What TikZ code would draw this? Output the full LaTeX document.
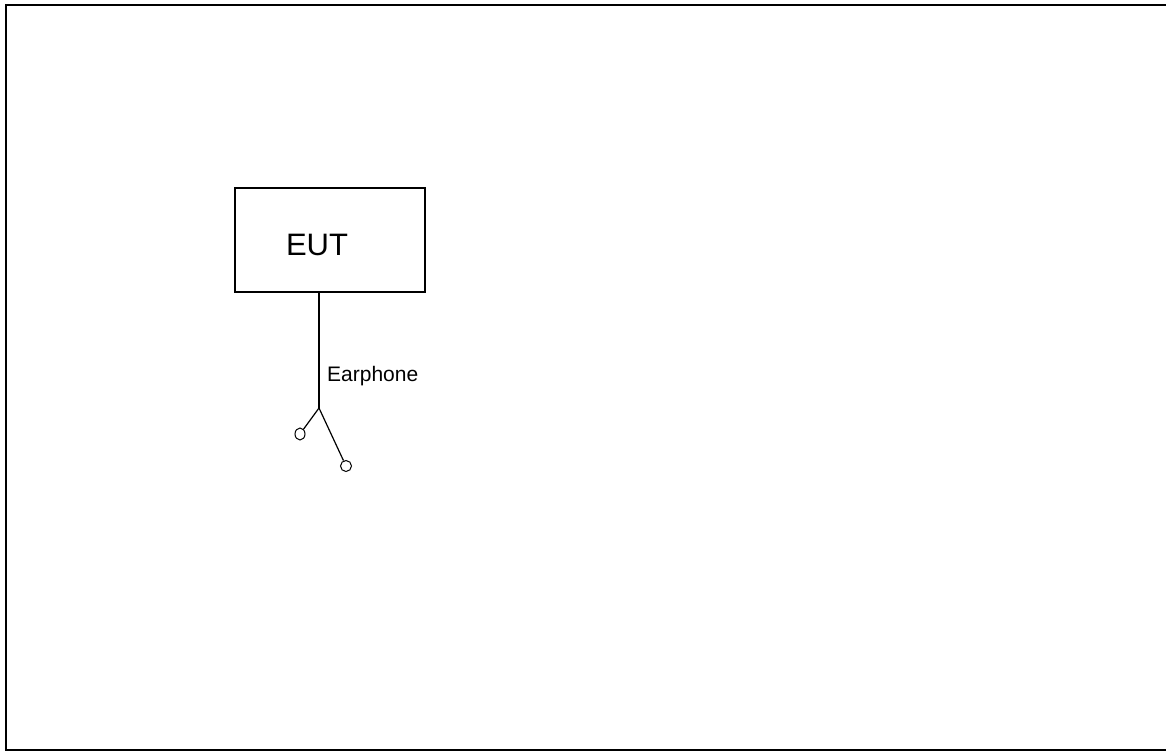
\documentclass[tikz,border=0pt]{standalone}
\usepackage{fontspec}
\setmainfont{Liberation Sans}
\usetikzlibrary{shapes.geometric}
\begin{document}
\begin{tikzpicture}[x=1pt,y=-1pt,
  box/.style={draw,line width=1.3pt,minimum width=190pt,minimum height=104pt,inner sep=0pt},
  wire/.style={line width=1.2pt},
  plug/.style={draw,line width=1pt,inner sep=0pt}]
\useasboundingbox (0,0) rectangle (1166,752);
\draw[line width=2pt] (1168,5) -- (6,5) -- (6,750) -- (1168,750);
\node[box] (eut) at (330,240) {};
\node[anchor=base] (eutlabel) at (317,255) {\fontsize{31}{31}\selectfont EUT};
\coordinate (j) at (319,408);
\node[plug,ellipse,minimum width=10pt,minimum height=12pt] (p1) at (300,434) {};
\node[plug,circle,minimum size=11pt] (p2) at (346,466) {};
\draw[wire] (319,292) -- (j);
\draw[wire] (j) -- (p1);
\draw[wire] (j) -- (p2);
\node[anchor=base west,inner sep=0pt] (ear) at (327,381) {\fontsize{21}{21}\selectfont Earphone};
\end{tikzpicture}
\end{document}
